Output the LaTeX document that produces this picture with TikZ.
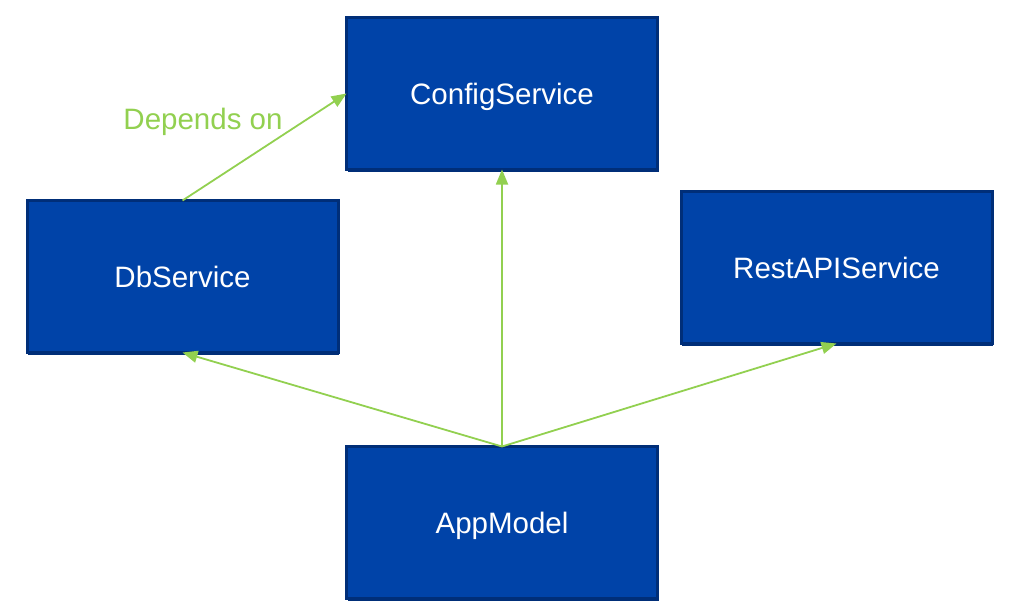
\documentclass[tikz,border=0pt]{standalone}
\usepackage{fontspec}
\setmainfont{Liberation Sans}
\usetikzlibrary{arrows.meta,shadows}
\definecolor{boxfill}{RGB}{0,67,168}
\definecolor{boxline}{RGB}{0,46,120}
\definecolor{linkgreen}{RGB}{146,208,80}
\tikzset{
  svcbox/.style={draw=boxline, line width=3pt, fill=boxfill, text=white,
    minimum width=311pt, minimum height=152pt, outer sep=0pt, inner sep=0pt,
    text height=21.1pt, text depth=0pt,
    font=\fontsize{29.5}{34}\selectfont,
    drop shadow={shadow xshift=1pt, shadow yshift=-2pt, fill=boxline, opacity=1}},
  link/.style={draw=linkgreen, line width=1.8pt, -{Triangle[length=15pt,width=12pt]}},
  linklabel/.style={text=linkgreen, font=\fontsize{29.5}{34}\selectfont, inner sep=0pt,
    text height=21.1pt, text depth=0pt}
}
\begin{document}
\begin{tikzpicture}[x=1pt,y=-1pt]
\useasboundingbox (0,0) rectangle (1024,615);
\node[svcbox] (cfg) at (502,93.5) {ConfigService};
\node[svcbox] (db) at (182.5,276.5) {DbService};
\node[svcbox] (rest) at (836.5,267.5) {RestAPIService};
\node[svcbox] (app) at (502,522.5) {AppModel};
\draw[link] (app.north) -- (cfg.south);
\draw[link] (app.north) -- (db.south);
\draw[link] (app.north) -- (rest.south);
\draw[link] (db.north) -- (cfg.west);
\node[linklabel] (dep) at (203,119) {Depends on};
\end{tikzpicture}
\end{document}
